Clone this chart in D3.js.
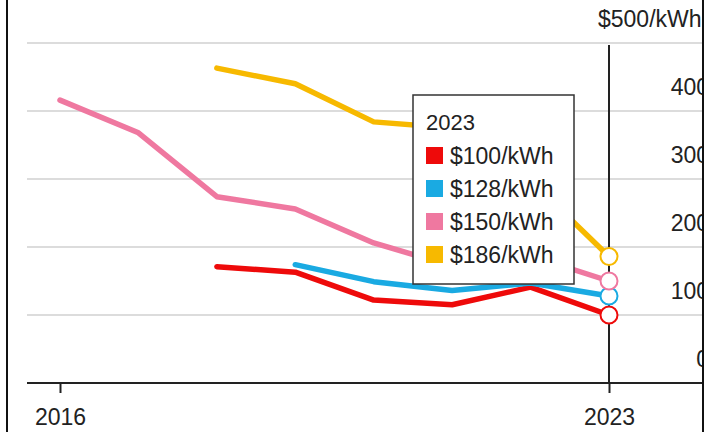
<!DOCTYPE html>
<html>
<head>
<meta charset="utf-8">
<script src="https://cdn.jsdelivr.net/npm/d3@7"></script>
<style>
  html, body { margin: 0; padding: 0; background: #fff; }
  svg { display: block; font-family: 'Helvetica Neue', Helvetica, Arial, 'Liberation Sans', sans-serif; }
</style>
</head>
<body>
<div id="chart"></div>
<script>
'use strict';

const years = [2016, 2017, 2018, 2019, 2020, 2021, 2022, 2023];
const seriesNames = ['$100/kWh', '$128/kWh', '$150/kWh', '$186/kWh'];
const seriesColors = ['#ee0a0a', '#1aaae2', '#ef78a0', '#f7b900'];
const price100 = [null, null, 171, 163, 122, 115, 141, 100];
const price128 = [null, null, null, 174, 149, 136, 147, 128];
const price150 = [416, 368, 274, 256, 206, 172, 187, 150];
const price186 = [null, null, 463, 440, 384, 375, 298, 186];
const yTicks = [0, 100, 200, 300, 400, 500];
const xTicks = [2016, 2023];
const legendTitle = '2023';

class Chart {
  constructor(options) {
    this.element = options.element;
    this.width = options.width;
    this.height = options.height;
    this.margin = options.margin;
    this.series = options.series;
    this.fontSize = '23px';
  }

  draw() {
    this.svg = d3.select(this.element).append('svg')
      .attr('width', this.width)
      .attr('height', this.height);
    this.createScales();
    this.drawGrid();
    this.drawXAxis();
    this.drawLines();
    this.drawYLabels();
    this.drawFrame();
    this.drawLegend();
  }

  createScales() {
    this.xScale = d3.scaleLinear()
      .domain([2016, 2023])
      .range([60, 609]);
    this.yScale = d3.scaleLinear()
      .domain([0, 500])
      .range([383, 43]);
  }

  drawGrid() {
    this.svg.append('g')
      .selectAll('line')
      .data(yTicks.filter((d) => d > 0))
      .enter().append('line')
        .attr('x1', this.margin.left)
        .attr('x2', this.width - this.margin.right)
        .attr('y1', (d) => this.yScale(d))
        .attr('y2', (d) => this.yScale(d))
        .attr('stroke', '#dcdcdc')
        .attr('stroke-width', 2);
  }

  drawXAxis() {
    const axis = this.svg.append('g')
      .attr('transform', `translate(0, ${this.yScale(0)})`)
      .call(d3.axisBottom(this.xScale)
        .tickValues(xTicks)
        .tickFormat(d3.format('d'))
        .tickSize(10)
        .tickPadding(16));
    axis.select('.domain')
      .attr('d', `M${this.margin.left},0H${this.width - this.margin.right}`)
      .attr('stroke', '#222')
      .attr('stroke-width', 2);
    axis.selectAll('.tick line')
      .attr('stroke', '#222')
      .attr('stroke-width', 2);
    axis.selectAll('.tick text')
      .attr('fill', '#222')
      .style('font-size', this.fontSize);

    // vertical marker at the latest year
    this.svg.append('line')
      .attr('x1', this.xScale(2023))
      .attr('x2', this.xScale(2023))
      .attr('y1', this.yScale(500) + 2)
      .attr('y2', this.yScale(0))
      .attr('stroke', '#222')
      .attr('stroke-width', 2);
  }

  drawLines() {
    const line = d3.line()
      .defined((d) => d.value !== null)
      .x((d) => this.xScale(d.year))
      .y((d) => this.yScale(d.value));

    this.svg.append('g')
      .selectAll('path')
      .data(this.series)
      .enter().append('path')
        .attr('d', (s) => line(s.values))
        .attr('fill', 'none')
        .attr('stroke', (s) => s.color)
        .attr('stroke-width', 5.5)
        .attr('stroke-linejoin', 'round')
        .attr('stroke-linecap', 'round');

    this.svg.append('g')
      .selectAll('circle')
      .data(this.series)
      .enter().append('circle')
        .attr('cx', (s) => this.xScale(2023))
        .attr('cy', (s) => this.yScale(s.values[s.values.length - 1].value))
        .attr('r', 8.5)
        .attr('fill', '#fff')
        .attr('stroke', (s) => s.color)
        .attr('stroke-width', 2);
  }

  drawYLabels() {
    this.svg.append('g')
      .selectAll('text')
      .data(yTicks)
      .enter().append('text')
        .attr('x', (d) => d === 500 ? 598 : 709)
        .attr('y', (d) => this.yScale(d) - 16)
        .attr('text-anchor', (d) => d === 500 ? 'start' : 'end')
        .attr('fill', '#222')
        .style('font-size', this.fontSize)
        .text((d) => d === 500 ? '$500/kWh' : d);
  }

  drawFrame() {
    // the picture is cropped on the right
    this.svg.append('rect')
      .attr('x', 703)
      .attr('y', 0)
      .attr('width', this.width - 703)
      .attr('height', this.height)
      .attr('fill', '#fff');
    this.svg.append('line')
      .attr('x1', 703).attr('x2', 703)
      .attr('y1', 0).attr('y2', this.height)
      .attr('stroke', '#111')
      .attr('stroke-width', 2);
    this.svg.append('line')
      .attr('x1', 7).attr('x2', 7)
      .attr('y1', 0).attr('y2', this.height)
      .attr('stroke', '#111')
      .attr('stroke-width', 2);
  }

  drawLegend() {
    const legend = this.svg.append('g')
      .attr('transform', 'translate(413, 95)');
    legend.append('rect')
      .attr('width', 161)
      .attr('height', 189)
      .attr('fill', '#fff')
      .attr('stroke', '#333')
      .attr('stroke-width', 1.5);
    legend.append('text')
      .attr('x', 13)
      .attr('y', 35)
      .attr('fill', '#222')
      .style('font-size', '22px')
      .text(legendTitle);

    const items = legend.selectAll('.item')
      .data(this.series)
      .enter().append('g')
        .attr('class', 'item')
        .attr('transform', (d, i) => `translate(13, ${52 + i * 33})`);
    items.append('rect')
      .attr('width', 17)
      .attr('height', 17)
      .attr('fill', (d) => d.color);
    items.append('text')
      .attr('x', 24)
      .attr('y', 17)
      .attr('fill', '#222')
      .style('font-size', this.fontSize)
      .text((d) => d.name);
  }
}

const valueLists = [price100, price128, price150, price186];
const series = seriesNames.map((name, i) => ({
  name: name,
  color: seriesColors[i],
  values: years.map((year, j) => ({ year: year, value: valueLists[i][j] }))
}));

const chart = new Chart({
  element: document.getElementById('chart'),
  width: 715,
  height: 432,
  margin: { top: 0, right: 12, bottom: 0, left: 27 },
  series: series
});
chart.draw();
</script>
</body>
</html>
